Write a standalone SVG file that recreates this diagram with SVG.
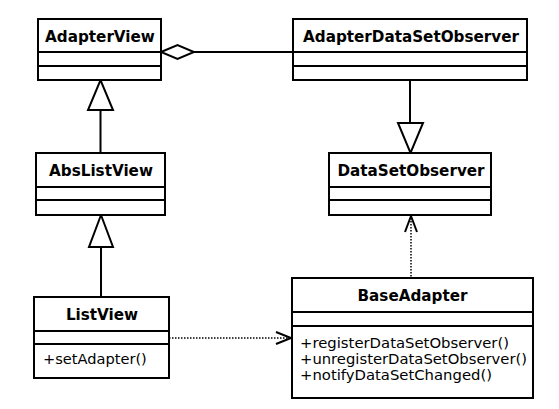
<svg xmlns="http://www.w3.org/2000/svg" width="559" height="409" viewBox="0 0 559 409">
<style>
.box{fill:#fff;stroke:#000;stroke-width:2}
.div{stroke:#000;stroke-width:2}
.t{font-family:"DejaVu Sans",sans-serif;font-weight:bold;font-size:15.2px;text-anchor:middle;fill:#000}
.m{font-family:"DejaVu Sans",sans-serif;font-size:14.6px;fill:#000}
.ms{font-family:"DejaVu Sans",sans-serif;font-size:13.4px;fill:#000}
.ln{stroke:#000;stroke-width:2;fill:none}
.dot{stroke:#000;stroke-width:1.5;stroke-dasharray:1.5 1.5;fill:none}
.tri{fill:#fff;stroke:#000;stroke-width:2}
</style>
<rect width="559" height="409" fill="#fff"/>
<g id="connectors">
<line class="ln" x1="194" y1="52" x2="293" y2="52"/>
<polygon class="tri" points="161,52 177.5,45 194,52 177.5,59"/>
<line class="ln" x1="410" y1="80" x2="410" y2="123"/>
<polygon class="tri" points="398,123 423,123 410.5,153"/>
<line class="ln" x1="100.5" y1="110" x2="100.5" y2="153"/>
<polygon class="tri" points="88,110 113,110 100.5,80"/>
<line class="ln" x1="101" y1="247" x2="101" y2="297"/>
<polygon class="tri" points="89,247 113,247 101,215"/>
<line class="dot" x1="169" y1="338" x2="291" y2="338"/>
<polyline class="ln" points="276,332 291,338 276,344"/>
<line class="dot" x1="411" y1="218" x2="411" y2="278"/>
<polyline class="ln" points="405,232 411,216 417,232"/>
</g>
<g id="AdapterView">
<rect class="box" x="38" y="19" width="123" height="61"/>
<line class="div" x1="38" y1="52" x2="161" y2="52"/>
<line class="div" x1="38" y1="66" x2="161" y2="66"/>
<text class="t" x="100" y="42">AdapterView</text>
</g>
<g id="AdapterDataSetObserver">
<rect class="box" x="293" y="19" width="234" height="61"/>
<line class="div" x1="293" y1="52" x2="527" y2="52"/>
<line class="div" x1="293" y1="66" x2="527" y2="66"/>
<text class="t" x="411" y="42">AdapterDataSetObserver</text>
</g>
<g id="DataSetObserver">
<rect class="box" x="329" y="153" width="162" height="62"/>
<line class="div" x1="329" y1="187" x2="491" y2="187"/>
<line class="div" x1="329" y1="200" x2="491" y2="200"/>
<text class="t" x="411" y="176">DataSetObserver</text>
</g>
<g id="AbsListView">
<rect class="box" x="36" y="153" width="129" height="62"/>
<line class="div" x1="36" y1="187" x2="165" y2="187"/>
<line class="div" x1="36" y1="200" x2="165" y2="200"/>
<text class="t" x="101" y="176">AbsListView</text>
</g>
<g id="ListView">
<rect class="box" x="34" y="297" width="135" height="81"/>
<line class="div" x1="34" y1="331" x2="169" y2="331"/>
<line class="div" x1="34" y1="344" x2="169" y2="344"/>
<text class="t" x="102" y="320">ListView</text>
<text class="m" x="43" y="364">+setAdapter()</text>
</g>
<g id="BaseAdapter">
<rect class="box" x="292" y="278" width="241" height="120"/>
<line class="div" x1="292" y1="312" x2="533" y2="312"/>
<line class="div" x1="292" y1="326" x2="533" y2="326"/>
<text class="t" x="412.5" y="301">BaseAdapter</text>
<text class="ms" x="300" y="348" textLength="209" lengthAdjust="spacingAndGlyphs">+registerDataSetObserver()</text>
<text class="ms" x="300" y="364" textLength="227" lengthAdjust="spacingAndGlyphs">+unregisterDataSetObserver()</text>
<text class="ms" x="300" y="380" textLength="192" lengthAdjust="spacingAndGlyphs">+notifyDataSetChanged()</text>
</g>
</svg>
